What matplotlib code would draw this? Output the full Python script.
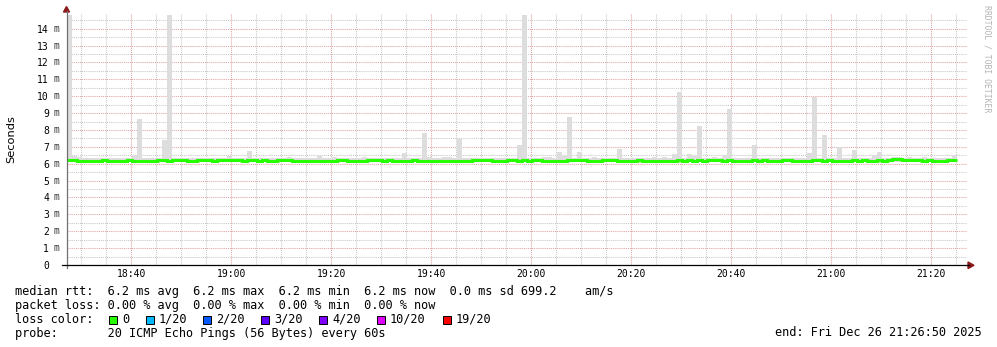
import matplotlib
matplotlib.use("Agg")
import matplotlib.pyplot as plt
from matplotlib.patches import Rectangle, Polygon
from matplotlib.lines import Line2D
from matplotlib.ticker import MultipleLocator
from matplotlib.transforms import blended_transform_factory

W, H = 997, 347
MONO = "DejaVu Sans Mono"

# first minute on the time axis (minutes since midnight, 18:27:09)
start_min = 18 * 60 + 27.15

# smoke: highest ping of every 1 minute step (ms)
smoke_top = [
    14.8, 6.48, 6.39, 6.35, 6.33, 6.33, 6.33, 6.36, 6.33, 6.33,
    6.33, 6.33, 6.33, 6.52, 8.65, 6.33, 6.33, 6.33, 6.33, 7.41,
    14.8, 6.33, 6.33, 6.33, 6.33, 6.33, 6.33, 6.33, 6.33, 6.33,
    6.33, 6.33, 6.48, 6.33, 6.33, 6.33, 6.76, 6.33, 6.33, 6.33,
    6.33, 6.33, 6.33, 6.33, 6.41, 6.35, 6.33, 6.33, 6.33, 6.33,
    6.47, 6.33, 6.33, 6.41, 6.33, 6.33, 6.33, 6.33, 6.33, 6.41,
    6.33, 6.35, 6.35, 6.33, 6.33, 6.33, 6.33, 6.64, 6.33, 6.33,
    6.33, 7.82, 6.41, 6.33, 6.33, 6.37, 6.41, 6.33, 7.46, 6.33,
    6.33, 6.35, 6.33, 6.33, 6.35, 6.33, 6.33, 6.33, 6.33, 6.33,
    7.11, 14.8, 6.33, 6.33, 6.33, 6.37, 6.37, 6.33, 6.70, 6.48,
    8.76, 6.33, 6.70, 6.33, 6.33, 6.41, 6.35, 6.33, 6.33, 6.33,
    6.88, 6.33, 6.35, 6.33, 6.33, 6.33, 6.33, 6.41, 6.33, 6.41,
    6.33, 6.58, 10.24, 6.33, 6.58, 6.48, 8.23, 6.33, 6.33, 6.41,
    6.33, 6.52, 9.24, 6.33, 6.33, 6.33, 6.33, 7.11, 6.33, 6.33,
    6.33, 6.33, 6.36, 6.33, 6.33, 6.33, 6.33, 6.33, 6.64, 9.95,
    6.33, 7.70, 6.33, 6.33, 6.99, 6.33, 6.33, 6.82, 6.33, 6.33,
    6.33, 6.52, 6.70, 6.33, 6.33, 6.37, 6.37, 6.33, 6.41, 6.33,
    6.33, 6.41, 6.33, 6.33, 6.35, 6.33, 6.33, 6.52,
]
min_rtt = 6.12

# median rtt per step (ms)
median = [
    6.24, 6.24, 6.18, 6.18, 6.18, 6.18, 6.18, 6.24, 6.18, 6.18,
    6.18, 6.18, 6.24, 6.18, 6.18, 6.18, 6.18, 6.18, 6.24, 6.24,
    6.18, 6.24, 6.24, 6.24, 6.18, 6.18, 6.24, 6.24, 6.24, 6.18,
    6.24, 6.24, 6.24, 6.24, 6.24, 6.18, 6.24, 6.24, 6.18, 6.24,
    6.18, 6.18, 6.24, 6.24, 6.24, 6.18, 6.18, 6.18, 6.18, 6.18,
    6.18, 6.18, 6.18, 6.18, 6.24, 6.24, 6.18, 6.18, 6.18, 6.18,
    6.24, 6.24, 6.24, 6.18, 6.24, 6.18, 6.18, 6.18, 6.18, 6.24,
    6.18, 6.18, 6.18, 6.18, 6.18, 6.18, 6.18, 6.18, 6.18, 6.18,
    6.18, 6.24, 6.24, 6.24, 6.24, 6.18, 6.18, 6.18, 6.24, 6.24,
    6.18, 6.24, 6.18, 6.24, 6.24, 6.18, 6.18, 6.18, 6.18, 6.18,
    6.24, 6.24, 6.24, 6.24, 6.18, 6.18, 6.18, 6.24, 6.24, 6.24,
    6.18, 6.18, 6.18, 6.18, 6.24, 6.18, 6.18, 6.18, 6.18, 6.18,
    6.18, 6.18, 6.24, 6.18, 6.24, 6.18, 6.24, 6.18, 6.24, 6.24,
    6.24, 6.18, 6.24, 6.18, 6.18, 6.18, 6.18, 6.24, 6.18, 6.24,
    6.18, 6.18, 6.18, 6.24, 6.24, 6.18, 6.18, 6.18, 6.18, 6.24,
    6.24, 6.18, 6.24, 6.18, 6.18, 6.18, 6.18, 6.24, 6.18, 6.24,
    6.18, 6.18, 6.24, 6.18, 6.24, 6.30, 6.30, 6.24, 6.24, 6.24,
    6.24, 6.18, 6.24, 6.18, 6.18, 6.18, 6.24, 6.24,
]

y_ticks = [0, 1, 2, 3, 4, 5, 6, 7, 8, 9, 10, 11, 12, 13, 14]
time_labels = ["18:40", "19:00", "19:20", "19:40", "20:00",
               "20:20", "20:40", "21:00", "21:20"]

loss_labels = ["0", "1/20", "2/20", "3/20", "4/20", "10/20", "19/20"]
loss_colors = ["#26ff00", "#00b8ff", "#0059ff", "#5e00ff",
               "#7e00ff", "#dd00ff", "#ff0000"]

rtt_line = "median rtt:  6.2 ms avg  6.2 ms max  6.2 ms min  6.2 ms now  0.0 ms sd 699.2    am/s"
loss_line = "packet loss: 0.00 % avg  0.00 % max  0.00 % min  0.00 % now"
probe_line = "probe:       20 ICMP Echo Pings (56 Bytes) every 60s"
end_line = "end: Fri Dec 26 21:26:50 2025"


def fx(x):
    return x / W


def fy(y):
    return 1 - y / H


fig = plt.figure(figsize=(W / 100, H / 100), dpi=100, facecolor="white")
ax = fig.add_axes([fx(67), fy(265), 900 / W, 252 / H])
ax.set_facecolor("white")

n = len(median)
steps = [start_min + i for i in range(n)]
edges = [start_min + i for i in range(n + 1)]

ax.bar(steps, [s - min_rtt for s in smoke_top], bottom=min_rtt, width=1,
       align="edge", color="#dddddd", linewidth=0, zorder=2)
ax.stairs(median, edges, baseline=None, color="#26ff00", lw=2.2, zorder=3)

ax.set_xlim(start_min, start_min + 180)
ax.set_ylim(0, 14.93)

tick_pos = [int(t[:2]) * 60 + int(t[3:]) for t in time_labels]
ax.set_xticks(tick_pos)
ax.set_xticklabels(time_labels, family=MONO, fontsize=7)
ax.xaxis.set_minor_locator(MultipleLocator(5))
ax.set_yticks(y_ticks)
ax.set_yticklabels([str(v) for v in y_ticks], family=MONO, fontsize=7)
ax.yaxis.set_minor_locator(MultipleLocator(0.5))
ax.tick_params(axis="x", which="both", length=0, pad=3.2)
ax.tick_params(axis="y", which="both", length=0, pad=13)

ax.set_axisbelow(True)
ax.grid(which="major", color="#e2a4a4", linestyle=(0, (1, 1)), lw=0.75)
ax.grid(which="minor", color="#c8c8c8", linestyle=(0, (1, 1)), lw=0.75)
for s in ax.spines.values():
    s.set_visible(False)

# unit suffix of the y labels
tr = blended_transform_factory(fig.transFigure, ax.transData)
for v in y_ticks[1:]:
    ax.text(fx(54), v, "m", transform=tr, ha="left", va="center",
            family=MONO, fontsize=7, color="#333333")

# axes with arrows
fig.add_artist(Line2D([fx(66.5), fx(66.5)], [fy(268), fy(11)], color="#707070", lw=0.9))
fig.add_artist(Line2D([fx(62), fx(969)], [fy(265.3), fy(265.3)], color="black", lw=0.9))
fig.add_artist(Polygon([(fx(63.5), fy(12)), (fx(69.5), fy(12)), (fx(66.5), fy(6.5))],
                       closed=True, color="#8b1a1a", transform=fig.transFigure))
fig.add_artist(Polygon([(fx(968), fy(262)), (fx(968), fy(268.6)), (fx(974), fy(265.3))],
                       closed=True, color="#8b1a1a", transform=fig.transFigure))

fig.text(fx(11), fy(139), "Seconds", rotation=90, ha="center", va="center",
         fontsize=8.2, family="DejaVu Sans")
fig.text(fx(987), fy(5), "RRDTOOL / TOBI OETIKER", rotation=270, ha="center",
         va="top", fontsize=5.9, family=MONO, color="#b4b4b4")

# legend block
x0 = fx(14.5)
fig.text(x0, fy(292), rtt_line, family=MONO, fontsize=8.6, va="center")
fig.text(x0, fy(306), loss_line, family=MONO, fontsize=8.6, va="center")
fig.text(x0, fy(319.5), "loss color:", family=MONO, fontsize=8.6, va="center")
fig.text(x0, fy(333), probe_line, family=MONO, fontsize=8.6, va="center")
fig.text(fx(981.5), fy(333), end_line, family=MONO, fontsize=8.6, va="center", ha="right")

box_x = [109, 146, 203, 261, 319, 377, 443]
for bx, lab, col in zip(box_x, loss_labels, loss_colors):
    fig.add_artist(Rectangle((fx(bx), fy(323.5)), 8 / W, 8 / H, facecolor=col,
                             edgecolor="black", lw=0.7, transform=fig.transFigure))
    fig.text(fx(bx + 13), fy(319.5), lab, family=MONO, fontsize=8.6, va="center")

fig.savefig("out.png", dpi=100)
